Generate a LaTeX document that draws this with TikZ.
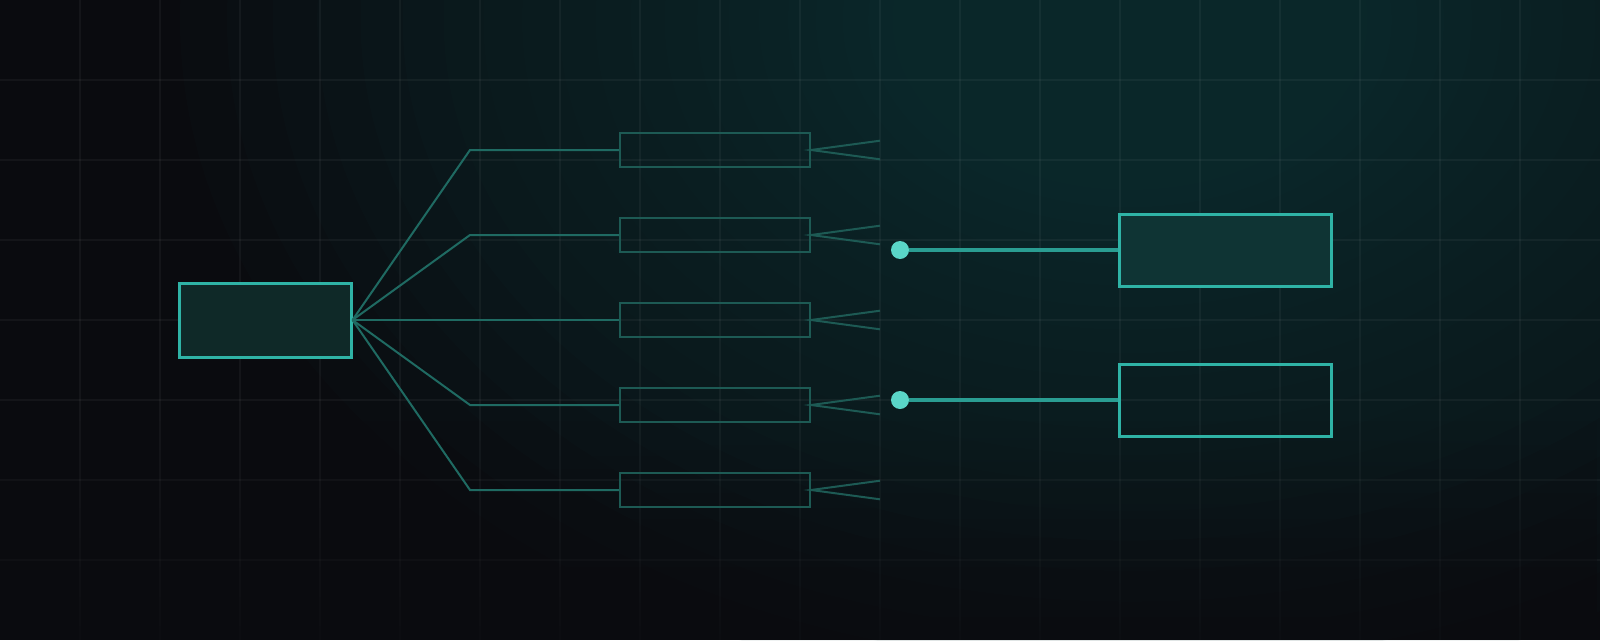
\documentclass[tikz,border=0pt]{standalone}
\usetikzlibrary{fadings}
\definecolor{bgc}{HTML}{0A0B0F}
\definecolor{glowc}{HTML}{0E3537}
\definecolor{brightc}{HTML}{2FB3A6}
\definecolor{dotc}{HTML}{5AD6C8}
\definecolor{linkc}{HTML}{2A9D92}
\definecolor{branchc}{HTML}{1F6A62}
\definecolor{dimc}{HTML}{1D5A54}
\definecolor{srcfill}{HTML}{0F2928}
\definecolor{outfill}{HTML}{0F3434}
\tikzfading[name=fadebot, top color=transparent!100, bottom color=transparent!25]
\tikzset{
  srcbox/.style={draw=brightc, line width=3pt, fill=srcfill, minimum width=172pt, minimum height=74pt, inner sep=0pt},
  midbox/.style={draw=dimc, line width=2pt, minimum width=190pt, minimum height=34pt, inner sep=0pt},
  outbox/.style={draw=brightc, line width=3pt, minimum width=212pt, minimum height=72pt, inner sep=0pt},
  branch/.style={draw=branchc, line width=2pt},
  fork/.style={draw=dimc, line width=2pt},
  link/.style={draw=linkc, line width=3.5pt},
  dotn/.style={circle, fill=dotc, minimum size=18pt, inner sep=0pt},
  gridline/.style={white, opacity=0.045, line width=1.2pt},
}
\begin{document}
\begin{tikzpicture}[x=1pt, y=-1pt]
\useasboundingbox (0,0) rectangle (1600,640);
\fill[bgc] (0,0) rectangle (1600,640);
\begin{scope}
\clip (0,0) rectangle (1600,640);
\foreach \k in {1,...,40} {
  \pgfmathsetmacro{\ff}{(\k/40)^2}
  \fill[glowc, opacity=0.065] (1130,20) ellipse [x radius={950*\ff}, y radius={680*\ff}];
}
\end{scope}
% grid
\foreach \gx in {80,160,...,1520} \draw[gridline] (\gx,0) -- (\gx,640);
\foreach \gy in {80,160,...,560} \draw[gridline] (0,\gy) -- (1600,\gy);
% bottom darkening
\fill[bgc, path fading=fadebot] (0,420) rectangle (1600,640);
% source
\node[srcbox] (src) at (265,320) {};
% middle boxes
\foreach \i/\yy in {1/150,2/235,3/320,4/405,5/490} {
  \node[midbox] (m\i) at (715,\yy) {};
  \coordinate (k\i) at (470,\yy);
  \coordinate (fa\i) at (880,\yy-9.3);
  \coordinate (fb\i) at (880,\yy+9.3);
  \draw[fork] (fa\i) -- (m\i.east) -- (fb\i);
}
\draw[branch] (src.east) -- (k1) -- (m1.west);
\draw[branch] (src.east) -- (k2) -- (m2.west);
\draw[branch] (src.east) -- (m3.west);
\draw[branch] (src.east) -- (k4) -- (m4.west);
\draw[branch] (src.east) -- (k5) -- (m5.west);
% outputs
\node[outbox, fill=outfill] (o1) at (1225,250) {};
\node[outbox] (o2) at (1225,400) {};
\node[dotn] (d1) at (900,250) {};
\node[dotn] (d2) at (900,400) {};
\draw[link] (d1) -- (o1.west);
\draw[link] (d2) -- (o2.west);
\end{tikzpicture}
\end{document}
